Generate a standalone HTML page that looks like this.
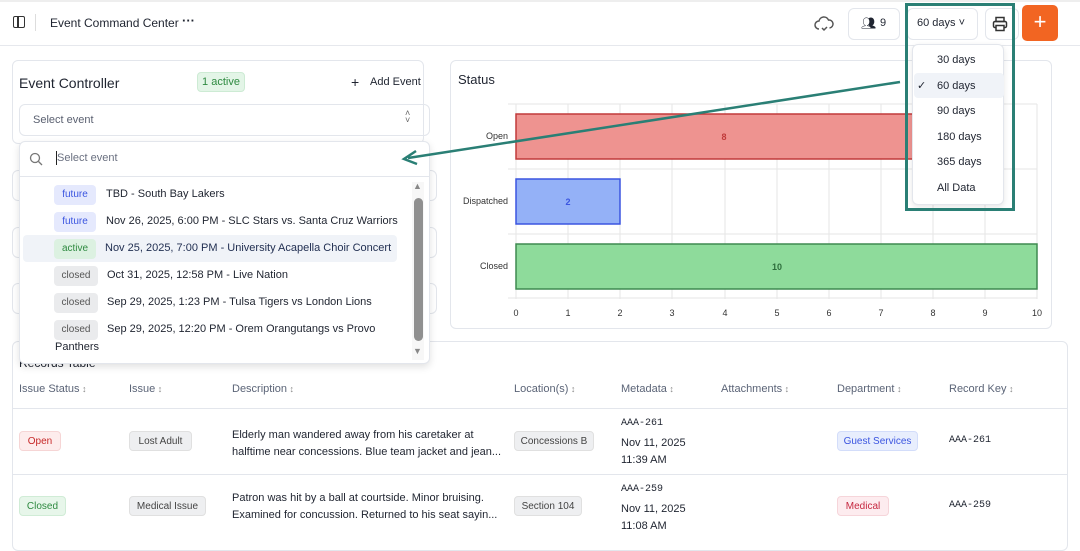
<!DOCTYPE html>
<html><head><meta charset="utf-8"><style>
*{box-sizing:border-box;margin:0;padding:0}
body{width:1080px;height:538px;overflow:hidden;background:#fff;font-family:"Liberation Sans",sans-serif;color:#1f2430;position:relative}
.a{position:absolute}
.card{position:absolute;border:1px solid #e3e6ec;border-radius:6px;background:#fff}
.badge{position:absolute;border-radius:4px;font-size:10px;line-height:20px;height:20px;text-align:center}
.t{position:absolute;font-size:11px;white-space:nowrap}
.th{position:absolute;top:383px;font-size:11px;color:#5b6477}
.th:after{content:" \2195";font-size:9px;color:#888}
</style></head><body>
<!-- top bar -->
<div class="a" style="left:0;top:0;width:1080px;height:2px;background:#eee"></div>
<div class="a" style="left:0;top:45px;width:1080px;height:1px;background:#e6e8ed"></div>
<div class="a" style="left:13px;top:16px;width:12px;height:12px;border:1.5px solid #333;border-radius:2px"></div>
<div class="a" style="left:17px;top:16px;width:1.5px;height:12px;background:#333"></div>
<div class="a" style="left:35px;top:14px;width:1px;height:17px;background:#ddd"></div>
<div class="t" style="left:50px;top:16px;font-size:12px">Event Command Center</div>
<div class="t" style="left:182px;top:13px;font-size:13px;font-weight:bold">···</div>
<svg class="a" style="left:814px;top:15px" width="20" height="18"><path d="M5 14a4 4 0 0 1 0-8 5 5 0 0 1 9.5-1 4 4 0 0 1 1 8" fill="none" stroke="#555" stroke-width="1.5"/><path d="M8 13l2 2 3-3" fill="none" stroke="#555" stroke-width="1.5"/></svg>
<div class="a" style="left:848px;top:8px;width:52px;height:32px;border:1px solid #e3e6ec;border-radius:6px"></div>
<div class="t" style="left:861px;top:16px;font-size:12px">&#x1F465;&#xFE0E;</div>
<div class="t" style="left:880px;top:17px;font-size:11px">9</div>
<div class="a" style="left:907px;top:8px;width:71px;height:32px;border:1px solid #e3e6ec;border-radius:6px"></div>
<div class="t" style="left:917px;top:17px;font-size:11px">60 days ˅</div>
<div class="a" style="left:985px;top:8px;width:34px;height:32px;border:1px solid #e3e6ec;border-radius:6px"></div>
<svg class="a" style="left:992px;top:16px" width="16" height="16"><rect x="4" y="1.5" width="8" height="4" fill="none" stroke="#333" stroke-width="1.5"/><rect x="1.5" y="5.5" width="13" height="6" rx="1.5" fill="none" stroke="#333" stroke-width="1.5"/><rect x="4" y="9.5" width="8" height="5" fill="#fff" stroke="#333" stroke-width="1.5"/></svg>
<div class="a" style="left:1022px;top:5px;width:36px;height:36px;background:#f26522;border-radius:5px;color:#fff;font-size:22px;text-align:center;line-height:34px">+</div>

<!-- left cards behind -->
<div class="card" style="left:12px;top:170px;width:425px;height:31px"></div>
<div class="card" style="left:12px;top:227px;width:425px;height:31px"></div>
<div class="card" style="left:12px;top:283px;width:425px;height:31px"></div>
<div class="card" style="left:12px;top:60px;width:412px;height:84px"></div>
<div class="t" style="left:19px;top:75px;font-size:14px">Event Controller</div>
<div class="badge" style="left:197px;top:72px;width:48px;background:#e3f5e7;color:#2e8a40;border:1px solid #cdebd4;font-size:11px;line-height:18px">1 active</div>
<div class="t" style="left:351px;top:74px;font-size:14px">+</div>
<div class="t" style="left:370px;top:76px;font-size:11px">Add Event</div>
<div class="a" style="left:19px;top:104px;width:411px;height:32px;border:1px solid #e3e6ec;border-radius:6px"></div>
<div class="t" style="left:33px;top:114px;color:#5a6070">Select event</div>
<div class="t" style="left:405px;top:110px;font-size:9px;color:#666;line-height:7px">˄<br>˅</div>

<!-- chart card -->
<div class="card" style="left:450px;top:60px;width:602px;height:269px"></div>
<div class="t" style="left:458px;top:72px;font-size:13px">Status</div>
<svg class="a" style="left:450px;top:60px" width="602" height="269" font-family="Liberation Sans" font-size="9">
<g stroke="#e6e6e6">
<line x1="66" y1="44" x2="66" y2="239"/><line x1="118" y1="44" x2="118" y2="239"/><line x1="170" y1="44" x2="170" y2="239"/><line x1="222" y1="44" x2="222" y2="239"/><line x1="275" y1="44" x2="275" y2="239"/><line x1="327" y1="44" x2="327" y2="239"/><line x1="379" y1="44" x2="379" y2="239"/><line x1="431" y1="44" x2="431" y2="239"/><line x1="483" y1="44" x2="483" y2="239"/><line x1="535" y1="44" x2="535" y2="239"/><line x1="587" y1="44" x2="587" y2="239"/>
<line x1="58" y1="44" x2="587" y2="44"/><line x1="58" y1="109" x2="587" y2="109"/><line x1="58" y1="174" x2="587" y2="174"/><line x1="58" y1="238" x2="587" y2="238"/>
</g>
<rect x="66" y="54" width="417" height="45" fill="#ee9390" stroke="#c03a3a" stroke-width="1.5"/>
<rect x="66" y="119" width="104" height="45" fill="#94b1f7" stroke="#3b55e0" stroke-width="1.5"/>
<rect x="66" y="184" width="521" height="45" fill="#8edb9b" stroke="#3e8a50" stroke-width="1.5"/>
<text x="274" y="80" fill="#c03a3a" text-anchor="middle" font-weight="bold">8</text>
<text x="118" y="145" fill="#3b55e0" text-anchor="middle" font-weight="bold">2</text>
<text x="327" y="210" fill="#2e6e3c" text-anchor="middle" font-weight="bold">10</text>
<g fill="#333" text-anchor="end"><text x="58" y="79">Open</text><text x="58" y="144">Dispatched</text><text x="58" y="209">Closed</text></g>
<g fill="#333" text-anchor="middle"><text x="66" y="256">0</text><text x="118" y="256">1</text><text x="170" y="256">2</text><text x="222" y="256">3</text><text x="275" y="256">4</text><text x="327" y="256">5</text><text x="379" y="256">6</text><text x="431" y="256">7</text><text x="483" y="256">8</text><text x="535" y="256">9</text><text x="587" y="256">10</text></g>
</svg>

<!-- table card -->
<div class="card" style="left:12px;top:341px;width:1056px;height:210px"></div>
<div class="t" style="left:19px;top:356px;font-size:12px">Records Table</div>
<div class="th" style="left:19px">Issue Status</div>
<div class="th" style="left:129px">Issue</div>
<div class="th" style="left:232px">Description</div>
<div class="th" style="left:514px">Location(s)</div>
<div class="th" style="left:621px">Metadata</div>
<div class="th" style="left:721px">Attachments</div>
<div class="th" style="left:837px">Department</div>
<div class="th" style="left:949px">Record Key</div>
<div class="a" style="left:13px;top:408px;width:1054px;height:1px;background:#e3e6ec"></div>
<div class="a" style="left:13px;top:474px;width:1054px;height:1px;background:#e3e6ec"></div>
<div class="badge" style="left:19px;top:431px;width:42px;background:#fdecec;color:#c62828;border:1px solid #f6d5d5">Open</div>
<div class="badge" style="left:129px;top:431px;width:63px;background:#eeeff1;color:#444;border:1px solid #e0e0e0">Lost Adult</div>
<div class="t" style="left:232px;top:427px;line-height:17px">Elderly man wandered away from his caretaker at<br>halftime near concessions. Blue team jacket and jean...</div>
<div class="badge" style="left:514px;top:431px;width:80px;background:#eeeff1;color:#444;border:1px solid #e0e0e0">Concessions B</div>
<div class="t" style="left:621px;top:418px;font-size:10px;font-family:'Liberation Mono',monospace">AAA-261</div>
<div class="t" style="left:621px;top:435px;line-height:17px">Nov 11, 2025<br>11:39 AM</div>
<div class="badge" style="left:837px;top:431px;width:81px;background:#e8eefd;color:#3b55e0;border:1px solid #d3ddfa">Guest Services</div>
<div class="t" style="left:949px;top:435px;font-size:10px;font-family:'Liberation Mono',monospace">AAA-261</div>
<div class="badge" style="left:19px;top:496px;width:47px;background:#e7f6ea;color:#2e8a40;border:1px solid #d0ecd6">Closed</div>
<div class="badge" style="left:129px;top:496px;width:77px;background:#eeeff1;color:#444;border:1px solid #e0e0e0">Medical Issue</div>
<div class="t" style="left:232px;top:490px;line-height:17px">Patron was hit by a ball at courtside. Minor bruising.<br>Examined for concussion. Returned to his seat sayin...</div>
<div class="badge" style="left:514px;top:496px;width:68px;background:#eeeff1;color:#444;border:1px solid #e0e0e0">Section 104</div>
<div class="t" style="left:621px;top:484px;font-size:10px;font-family:'Liberation Mono',monospace">AAA-259</div>
<div class="t" style="left:621px;top:501px;line-height:17px">Nov 11, 2025<br>11:08 AM</div>
<div class="badge" style="left:837px;top:496px;width:52px;background:#fdecef;color:#c62840;border:1px solid #f6d5da">Medical</div>
<div class="t" style="left:949px;top:500px;font-size:10px;font-family:'Liberation Mono',monospace">AAA-259</div>

<!-- event dropdown -->
<div class="a" style="left:19px;top:141px;width:411px;height:223px;background:#fff;border:1px solid #e3e6ec;border-radius:6px;box-shadow:0 3px 8px rgba(0,0,0,.12)"></div>
<div class="a" style="left:20px;top:176px;width:409px;height:1px;background:#e3e6ec"></div>
<svg class="a" style="left:29px;top:152px" width="14" height="14"><circle cx="6" cy="6" r="4.5" fill="none" stroke="#777" stroke-width="1.3"/><line x1="9.5" y1="9.5" x2="13" y2="13" stroke="#777" stroke-width="1.3"/></svg>
<div class="a" style="left:56px;top:151px;width:1px;height:14px;background:#222"></div>
<div class="t" style="left:57px;top:152px;color:#6a7080">Select event</div>
<div class="a" style="left:23px;top:235px;width:374px;height:27px;background:#f0f3f8;border-radius:4px"></div>
<div class="badge" style="left:54px;top:185px;width:42px;background:#e5e9fd;color:#3b55e0">future</div>
<div class="t" style="left:106px;top:188px">TBD - South Bay Lakers</div>
<div class="badge" style="left:54px;top:212px;width:42px;background:#e5e9fd;color:#3b55e0">future</div>
<div class="t" style="left:106px;top:215px">Nov 26, 2025, 6:00 PM - SLC Stars vs. Santa Cruz Warriors</div>
<div class="badge" style="left:54px;top:239px;width:42px;background:#dcf1e1;color:#2e8a40">active</div>
<div class="t" style="left:105px;top:242px;color:#1f2d50">Nov 25, 2025, 7:00 PM - University Acapella Choir Concert</div>
<div class="badge" style="left:54px;top:266px;width:44px;background:#eaebed;color:#555">closed</div>
<div class="t" style="left:107px;top:269px">Oct 31, 2025, 12:58 PM - Live Nation</div>
<div class="badge" style="left:54px;top:293px;width:44px;background:#eaebed;color:#555">closed</div>
<div class="t" style="left:107px;top:296px">Sep 29, 2025, 1:23 PM - Tulsa Tigers vs London Lions</div>
<div class="badge" style="left:54px;top:320px;width:44px;background:#eaebed;color:#555">closed</div>
<div class="t" style="left:107px;top:323px">Sep 29, 2025, 12:20 PM - Orem Orangutangs vs Provo</div>
<div class="t" style="left:55px;top:341px">Panthers</div>
<div class="a" style="left:412px;top:182px;width:12px;height:178px;background:#f7f7f7"></div>
<div class="t" style="left:413px;top:181px;font-size:9px;color:#888">▲</div>
<div class="t" style="left:413px;top:346px;font-size:9px;color:#888">▼</div>
<div class="a" style="left:414px;top:198px;width:9px;height:143px;background:#909090;border-radius:5px"></div>

<!-- period dropdown -->
<div class="a" style="left:912px;top:44px;width:92px;height:161px;background:#fff;border:1px solid #e3e6ec;border-radius:6px;box-shadow:0 2px 6px rgba(0,0,0,.1)"></div>
<div class="a" style="left:914px;top:73px;width:90px;height:25px;background:#f0f3f8;border-radius:4px"></div>
<div class="t" style="left:937px;top:54px">30 days</div>
<div class="t" style="left:917px;top:79px">✓</div>
<div class="t" style="left:937px;top:80px">60 days</div>
<div class="t" style="left:937px;top:105px">90 days</div>
<div class="t" style="left:937px;top:131px">180 days</div>
<div class="t" style="left:937px;top:156px">365 days</div>
<div class="t" style="left:937px;top:182px">All Data</div>
<div class="a" style="left:905px;top:3px;width:110px;height:208px;border:3px solid #2a7f75"></div>

<svg class="a" style="left:0;top:0" width="1080" height="538"><line x1="900" y1="82" x2="408" y2="158" stroke="#2a7f75" stroke-width="2.5"/><path d="M416 151 L404 159 L417 164" fill="none" stroke="#2a7f75" stroke-width="2.5"/></svg>
</body></html>
